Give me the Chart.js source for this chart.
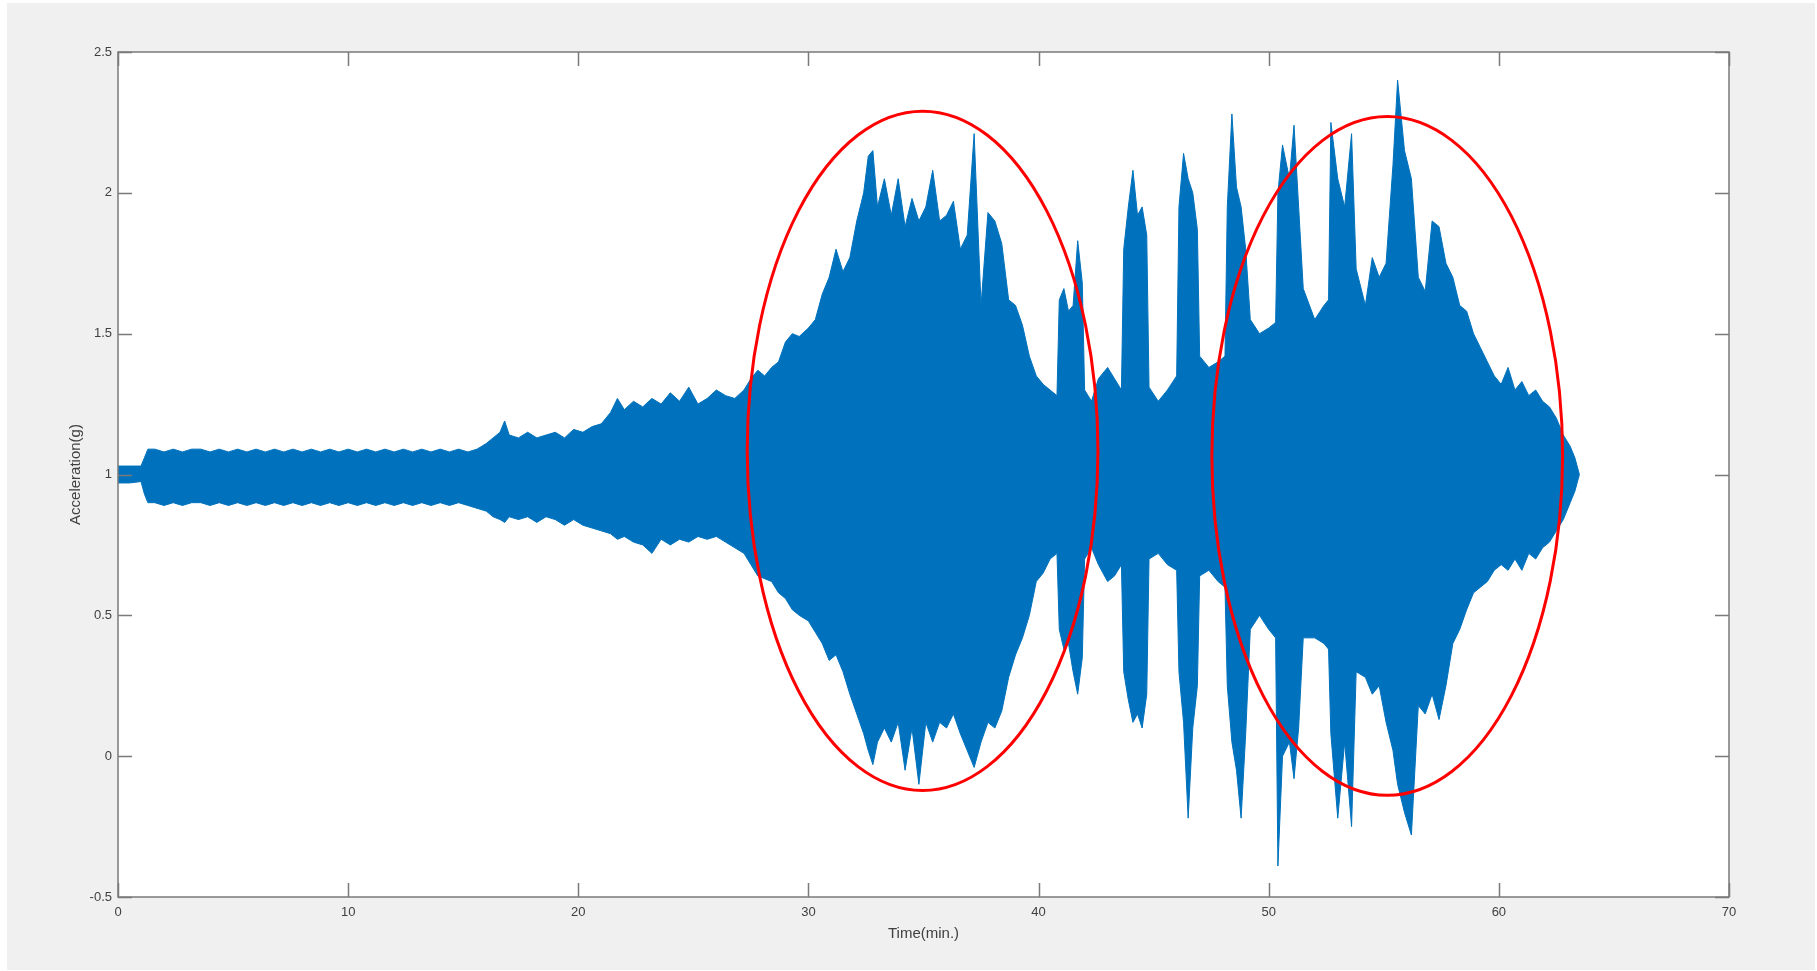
<!DOCTYPE html>
<html>
<head>
<meta charset="utf-8">
<title>Acceleration(g)</title>
<script src="https://cdn.jsdelivr.net/npm/chart.js@4/dist/chart.umd.min.js"></script>
<style>
    html, body { margin: 0; padding: 0; background: #ffffff; overflow: hidden; }
    canvas { display: block; }
</style>
</head>
<body>
<canvas id="graficoSinal" width="1817" height="971"></canvas>
<script>
// ------------ Dados ------------ //

var tempo = [
    0.0, 0.5, 1.0, 1.15, 1.3, 1.6, 2.0, 2.4, 2.8, 3.2, 3.6, 4.0, 4.4, 4.8, 5.2, 5.6, 6.0, 6.4, 6.8, 7.2,
    7.6, 8.0, 8.4, 8.8, 9.2, 9.6, 10.0, 10.4, 10.8, 11.2, 11.6, 12.0, 12.4, 12.8, 13.2, 13.6, 14.0, 14.4, 14.8, 15.2,
    15.6, 16.0, 16.3, 16.6, 16.8, 17.0, 17.4, 17.8, 18.2, 18.6, 19.0, 19.4, 19.8, 20.2, 20.6, 21.0, 21.4, 21.7, 22.0, 22.4,
    22.8, 23.2, 23.6, 24.0, 24.4, 24.8, 25.2, 25.6, 26.0, 26.4, 26.8, 27.2, 27.5, 27.8, 28.1, 28.4, 28.7, 29.0, 29.3, 29.6,
    30.0, 30.3, 30.6, 30.9, 31.2, 31.5, 31.8, 32.1, 32.4, 32.6, 32.8, 33.0, 33.3, 33.6, 33.9, 34.2, 34.5, 34.8, 35.1, 35.4,
    35.7, 36.0, 36.3, 36.6, 36.9, 37.2, 37.5, 37.8, 38.1, 38.4, 38.7, 39.0, 39.3, 39.6, 39.9, 40.2, 40.5, 40.8, 40.9, 41.1,
    41.3, 41.5, 41.7, 41.9, 42.0, 42.3, 42.6, 43.0, 43.3, 43.6, 43.7, 43.9, 44.1, 44.3, 44.5, 44.7, 44.8, 45.2, 45.6, 46.0,
    46.1, 46.3, 46.5, 46.7, 46.9, 47.0, 47.4, 47.8, 48.1, 48.2, 48.4, 48.6, 48.8, 49.0, 49.2, 49.6, 50.0, 50.3, 50.4, 50.6,
    50.9, 51.1, 51.3, 51.5, 52.0, 52.4, 52.6, 52.7, 53.0, 53.3, 53.6, 53.8, 54.2, 54.5, 54.8, 55.1, 55.4, 55.6, 55.9, 56.2,
    56.5, 56.8, 57.1, 57.4, 57.7, 58.0, 58.3, 58.6, 58.9, 59.2, 59.5, 59.8, 60.1, 60.4, 60.7, 61.0, 61.3, 61.6, 61.9, 62.2,
    62.5, 62.8, 63.1, 63.3, 63.5
];

var limiteSuperior = [
    1.03, 1.03, 1.03, 1.06, 1.09, 1.09, 1.08, 1.09, 1.08, 1.09, 1.09, 1.08, 1.09, 1.08, 1.09, 1.08, 1.09, 1.08, 1.09, 1.08,
    1.09, 1.08, 1.09, 1.08, 1.09, 1.08, 1.09, 1.08, 1.09, 1.08, 1.09, 1.08, 1.09, 1.08, 1.09, 1.08, 1.09, 1.08, 1.09, 1.08,
    1.09, 1.11, 1.13, 1.15, 1.19, 1.14, 1.13, 1.15, 1.13, 1.14, 1.15, 1.13, 1.16, 1.15, 1.17, 1.18, 1.22, 1.27, 1.23, 1.26,
    1.24, 1.27, 1.25, 1.29, 1.26, 1.31, 1.25, 1.27, 1.30, 1.28, 1.27, 1.30, 1.34, 1.37, 1.35, 1.38, 1.40, 1.47, 1.50, 1.49,
    1.52, 1.55, 1.64, 1.70, 1.80, 1.72, 1.77, 1.90, 2.00, 2.13, 2.15, 1.95, 2.05, 1.92, 2.05, 1.88, 1.98, 1.90, 1.95, 2.08,
    1.90, 1.92, 1.97, 1.80, 1.85, 2.21, 1.60, 1.93, 1.90, 1.82, 1.62, 1.60, 1.53, 1.42, 1.35, 1.32, 1.30, 1.28, 1.62, 1.66,
    1.58, 1.60, 1.83, 1.68, 1.30, 1.26, 1.34, 1.38, 1.34, 1.30, 1.80, 1.95, 2.08, 1.92, 1.95, 1.85, 1.31, 1.26, 1.30, 1.35,
    1.95, 2.14, 2.05, 2.00, 1.87, 1.42, 1.38, 1.40, 1.42, 1.95, 2.28, 2.02, 1.95, 1.80, 1.55, 1.50, 1.52, 1.54, 2.00, 2.17,
    2.05, 2.24, 1.95, 1.66, 1.55, 1.60, 1.62, 2.25, 2.05, 1.95, 2.21, 1.73, 1.60, 1.77, 1.70, 1.75, 2.10, 2.40, 2.15, 2.05,
    1.70, 1.65, 1.90, 1.88, 1.75, 1.70, 1.60, 1.58, 1.50, 1.45, 1.40, 1.35, 1.32, 1.38, 1.30, 1.33, 1.28, 1.30, 1.26, 1.24,
    1.20, 1.14, 1.10, 1.06, 1.00
];

var limiteInferior = [
    0.97, 0.97, 0.975, 0.93, 0.90, 0.90, 0.89, 0.90, 0.89, 0.90, 0.90, 0.89, 0.90, 0.89, 0.90, 0.89, 0.90, 0.89, 0.90, 0.89,
    0.90, 0.89, 0.90, 0.89, 0.90, 0.89, 0.90, 0.89, 0.90, 0.89, 0.90, 0.89, 0.90, 0.89, 0.90, 0.89, 0.90, 0.89, 0.90, 0.89,
    0.88, 0.87, 0.85, 0.84, 0.83, 0.85, 0.84, 0.85, 0.83, 0.85, 0.84, 0.82, 0.84, 0.82, 0.81, 0.80, 0.79, 0.77, 0.78, 0.76,
    0.75, 0.72, 0.77, 0.75, 0.77, 0.76, 0.78, 0.77, 0.78, 0.76, 0.74, 0.72, 0.68, 0.64, 0.63, 0.62, 0.58, 0.56, 0.52, 0.50,
    0.48, 0.44, 0.40, 0.34, 0.36, 0.30, 0.22, 0.15, 0.08, 0.02, -0.03, 0.05, 0.10, 0.05, 0.12, -0.05, 0.10, -0.10, 0.12, 0.05,
    0.12, 0.10, 0.15, 0.08, 0.02, -0.04, 0.05, 0.12, 0.10, 0.16, 0.28, 0.36, 0.42, 0.50, 0.62, 0.65, 0.70, 0.72, 0.45, 0.38,
    0.40, 0.30, 0.22, 0.35, 0.70, 0.74, 0.68, 0.62, 0.64, 0.68, 0.30, 0.20, 0.12, 0.15, 0.10, 0.22, 0.70, 0.72, 0.68, 0.66,
    0.30, 0.12, -0.22, 0.10, 0.25, 0.64, 0.66, 0.62, 0.60, 0.25, 0.05, -0.05, -0.22, 0.08, 0.45, 0.50, 0.45, 0.42, -0.39, 0.00,
    0.05, -0.08, 0.10, 0.42, 0.42, 0.40, 0.38, 0.08, -0.22, 0.05, -0.25, 0.30, 0.28, 0.22, 0.25, 0.12, 0.02, -0.10, -0.20, -0.28,
    0.18, 0.15, 0.22, 0.13, 0.25, 0.40, 0.45, 0.52, 0.58, 0.60, 0.62, 0.66, 0.68, 0.66, 0.70, 0.66, 0.72, 0.70, 0.74, 0.76,
    0.80, 0.84, 0.90, 0.94, 1.00
];

// marcas dos eixos
var ticksTempo = [0, 10, 20, 30, 40, 50, 60, 70];
var ticksAceleracao = [-0.5, 0, 0.5, 1, 1.5, 2, 2.5];

// elipses vermelhas (centro e raios em unidades dos eixos)
var elipses = [
    { t: 34.96, a: 1.084, rt: 7.62, ra: 1.206 },
    { t: 55.15, a: 1.066, rt: 7.62, ra: 1.205 }
];

var corSinal = '#0072bd';
var corTexto = '#404040';
var corEixo = '#7a7a7a';

function montarPontos(valores) {
    return tempo.map(function (t, i) { return { x: t, y: valores[i] }; });
}

// ------------ Plugins de desenho ------------ //

var fundoPlugin = {
    id: 'fundo',
    beforeDraw: function (chart) {
        var ctx = chart.ctx;
        var area = chart.chartArea;
        ctx.save();
        ctx.fillStyle = '#ffffff';
        ctx.fillRect(0, 0, chart.width, chart.height);
        ctx.fillStyle = '#f0f0f0';
        ctx.fillRect(7, 3, chart.width - 9, chart.height - 4);
        ctx.fillStyle = '#ffffff';
        ctx.fillRect(area.left, area.top, area.right - area.left, area.bottom - area.top);
        ctx.restore();
    }
};

var molduraPlugin = {
    id: 'moldura',
    afterDatasetsDraw: function (chart) {
        var ctx = chart.ctx;
        var area = chart.chartArea;
        var x = chart.scales.x;
        var y = chart.scales.y;
        var tam = 14;

        ctx.save();
        // elipses
        ctx.strokeStyle = '#ff0000';
        ctx.lineWidth = 3;
        elipses.forEach(function (e) {
            var cx = x.getPixelForValue(e.t);
            var cy = y.getPixelForValue(e.a);
            var rx = x.getPixelForValue(e.t + e.rt) - cx;
            var ry = cy - y.getPixelForValue(e.a + e.ra);
            ctx.beginPath();
            ctx.ellipse(cx, cy, rx, ry, 0, 0, Math.PI * 2);
            ctx.stroke();
        });

        // caixa e marcas para dentro
        ctx.strokeStyle = corEixo;
        ctx.lineWidth = 1.5;
        ctx.strokeRect(area.left, area.top, area.right - area.left, area.bottom - area.top);
        ctx.beginPath();
        ticksTempo.forEach(function (v) {
            var px = Math.round(x.getPixelForValue(v)) + 0.5;
            ctx.moveTo(px, area.bottom); ctx.lineTo(px, area.bottom - tam);
            ctx.moveTo(px, area.top); ctx.lineTo(px, area.top + tam);
        });
        ticksAceleracao.forEach(function (v) {
            var py = Math.round(y.getPixelForValue(v)) + 0.5;
            ctx.moveTo(area.left, py); ctx.lineTo(area.left + tam, py);
            ctx.moveTo(area.right, py); ctx.lineTo(area.right - tam, py);
        });
        ctx.stroke();
        ctx.restore();
    }
};

// ------------ Configuração do gráfico ------------ //

var ctxSinal = document.getElementById('graficoSinal').getContext('2d');
var graficoSinal = new Chart(ctxSinal, {
    type: 'line',
    data: {
        datasets: [{
            label: 'superior',
            data: montarPontos(limiteSuperior),
            borderColor: corSinal,
            backgroundColor: corSinal,
            borderWidth: 1,
            pointRadius: 0,
            tension: 0,
            fill: '+1'
        }, {
            label: 'inferior',
            data: montarPontos(limiteInferior),
            borderColor: corSinal,
            backgroundColor: corSinal,
            borderWidth: 1,
            pointRadius: 0,
            tension: 0,
            fill: false
        }]
    },
    options: {
        responsive: false,
        animation: false,
        devicePixelRatio: 1,
        layout: { padding: { top: 52, right: 88, left: 0, bottom: 0 } },
        plugins: {
            legend: { display: false },
            tooltip: { enabled: false }
        },
        scales: {
            x: {
                type: 'linear',
                min: 0,
                max: 70,
                afterFit: function (scale) { scale.height = 74; },
                afterBuildTicks: function (scale) {
                    scale.ticks = ticksTempo.map(function (v) { return { value: v }; });
                },
                grid: { display: false, drawTicks: false },
                border: { display: false },
                ticks: {
                    color: corTexto,
                    padding: 8,
                    maxRotation: 0,
                    autoSkip: false,
                    font: { family: 'Liberation Sans, Arial, sans-serif', size: 13 }
                },
                title: {
                    display: true,
                    text: 'Time(min.)',
                    color: corTexto,
                    padding: { top: 0, bottom: 28 },
                    font: { family: 'Liberation Sans, Arial, sans-serif', size: 15 }
                }
            },
            y: {
                type: 'linear',
                min: -0.5,
                max: 2.5,
                afterFit: function (scale) { scale.width = 118; },
                afterBuildTicks: function (scale) {
                    scale.ticks = ticksAceleracao.map(function (v) { return { value: v }; });
                },
                grid: { display: false, drawTicks: false },
                border: { display: false },
                ticks: {
                    color: corTexto,
                    padding: 6,
                    autoSkip: false,
                    font: { family: 'Liberation Sans, Arial, sans-serif', size: 13 },
                    callback: function (v) { return String(v); }
                },
                title: {
                    display: true,
                    text: 'Acceleration(g)',
                    color: corTexto,
                    padding: { top: 67, bottom: 0 },
                    font: { family: 'Liberation Sans, Arial, sans-serif', size: 15 }
                }
            }
        }
    },
    plugins: [fundoPlugin, molduraPlugin]
});
</script>
</body>
</html>
